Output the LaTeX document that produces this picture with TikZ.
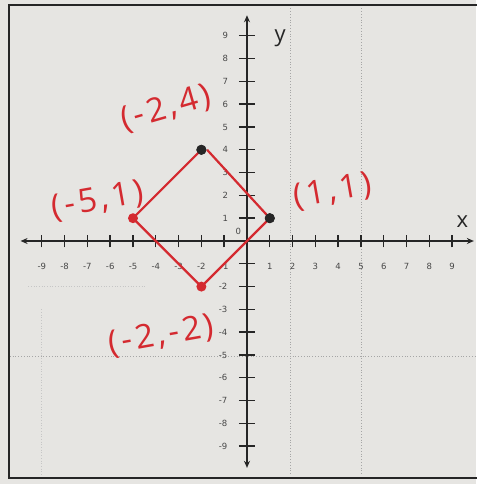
\documentclass[tikz,border=0pt]{standalone}
\usepackage{fontspec}
\setmainfont{DejaVu Sans}
\newfontfamily\hand[LetterSpace=10]{Open Sans}
\newfontfamily\axhand{Open Sans}
\usetikzlibrary{arrows.meta}
\definecolor{paper}{HTML}{E6E5E2}
\definecolor{ink}{HTML}{262626}
\definecolor{pen}{HTML}{D42A30}
\tikzset{
  axisline/.style={ink, line width=2.2pt, {Stealth[length=7pt,width=6pt]}-{Stealth[length=7pt,width=6pt]}},
  tickmark/.style={ink, line width=1.4pt},
  ticklabel/.style={ink!85, font=\fontsize{8.5}{8.5}\selectfont, inner sep=0pt},
  gridline/.style={gray!70, line width=0.8pt, dotted},
  faintgrid/.style={gray!45, line width=0.7pt, dotted},
  edge/.style={pen, line width=2.2pt},
  blackdot/.style={circle, fill=ink, inner sep=0pt, minimum size=10pt},
  reddot/.style={circle, fill=pen, inner sep=0pt, minimum size=10pt},
  penlabel/.style={pen, font=\hand\fontsize{33}{33}\selectfont, inner sep=0pt},
  axlabel/.style={ink, font=\axhand\fontsize{22}{22}\selectfont, inner sep=0pt}
}
\begin{document}
\begin{tikzpicture}[x=22.8pt,y=22.8pt]
\useasboundingbox (-10.833,-10.658) rectangle (10.044,10.570);
\fill[paper] (-10.833,-10.658) rectangle (10.044,10.570);
% frame
\draw[ink, line width=2pt] (11,10.35) -- (-10.44,10.35) -- (-10.44,-10.39) -- (11,-10.39);
% graph paper dotted lines
\draw[gridline] (1.9,10.2) -- (1.9,-10.3);
\draw[gridline] (5.0,10.2) -- (5.0,-10.3);
\draw[gridline] (-10.4,-5.04) -- (10.0,-5.04);
\draw[faintgrid] (-9.0,-3.0) -- (-9.0,-10.3);
\draw[faintgrid] (-9.6,-2.0) -- (-4.5,-2.0);
% axes
\coordinate (xl) at (-9.93,0);
\coordinate (xr) at (9.95,0);
\coordinate (yt) at (0,9.9);
\coordinate (yb) at (0,-9.95);
\draw[axisline] (xl) -- (xr);
\draw[axisline] (yb) -- (yt);
% ticks
\foreach \i in {-9,...,-1,1,2,...,9}{
  \draw[tickmark] (\i,-0.28) -- (\i,0.28);
  \draw[tickmark] (-0.36,\i) -- (0.36,\i);
}
\foreach \i in {-9,...,-1}{ \node[ticklabel] (xt\i) at (\i,-1.1) {\i}; }
\foreach \i in {1,...,9}{ \node[ticklabel] (xt\i) at (\i,-1.1) {\i}; }
\foreach \i in {1,...,9}{ \node[ticklabel] (yt\i) at (-0.95,\i) {\i}; }
\foreach \i in {-9,...,-2}{ \node[ticklabel] (yt\i) at (-1.05,\i) {\i}; }
\node[ticklabel] (zero) at (-0.38,0.42) {0};
\node[axlabel] (ylab) at (1.45,8.9) {y};
\node[axlabel] (xlab) at (9.45,0.85) {x};
% points
\node[reddot] (A) at (-5,1) {};
\node[blackdot] (B) at (-2,4) {};
\node[blackdot] (C) at (1,1) {};
\node[reddot] (D) at (-2,-2) {};
\draw[edge] (A.center) -- (B.center);
\draw[edge] ([shift={(0.25,0)}]B.center) -- (C.center);
\draw[edge] (C.center) -- (D.center) -- (A.center);
\node[blackdot] at (B) {};
\node[blackdot] at (C) {};
% labels
\node[penlabel, rotate=16] (lB) at (-3.55,5.8) {(-2,4)};
\node[penlabel, rotate=10] (lA) at (-6.55,1.75) {(-5,1)};
\node[penlabel, rotate=10] (lC) at (3.75,2.15) {(1,1)};
\node[penlabel, rotate=10] (lD) at (-3.75,-4.15) {(-2,-2)};
\end{tikzpicture}
\end{document}
